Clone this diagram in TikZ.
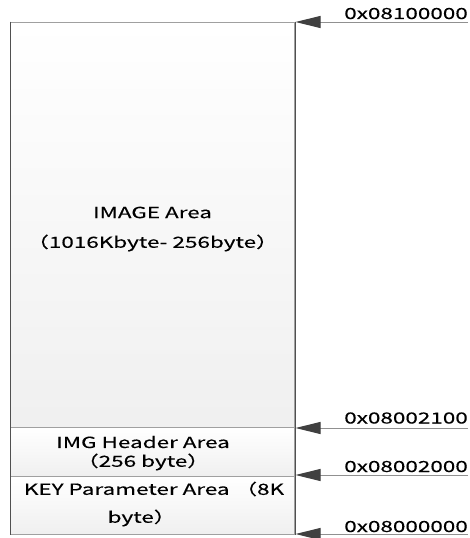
\documentclass[tikz,border=0pt]{standalone}
\usepackage{fontspec}
\setmainfont{Noto Sans CJK SC}[FakeStretch=1.47,FakeBold=0.3]
\usetikzlibrary{arrows.meta}
\definecolor{edge}{HTML}{A0A0A0}
\definecolor{sidec}{HTML}{505050}
\definecolor{headc}{HTML}{404040}
\definecolor{linec}{HTML}{909090}
\tikzset{
  area/.style={draw=edge, line width=1pt, top color=white, bottom color=black!6, minimum width=284pt, inner sep=0pt},
  side/.style={draw=sidec, line width=1pt},
  txt/.style={font=\fontsize{15.3}{18}\selectfont, inner sep=0pt, text=black},
  addr/.style={font=\fontsize{15.3}{18}\selectfont, inner sep=0pt, anchor=base east, text=black},
  ptr/.style={draw=linec, line width=1pt, -{Triangle[length=25pt,width=12pt,fill=headc,color=headc]}}
}
\begin{document}
\begin{tikzpicture}[x=1pt,y=-1pt]
\useasboundingbox (0,0) rectangle (470,538);
% areas
\node[area, minimum height=405.5pt] (img) at (152.5,224.75) {};
\node[area, minimum height=49pt] (hdr) at (152.5,452) {};
\node[area, minimum height=57.5pt] (key) at (152.5,505.25) {};
\draw[side] (img.north west) -- (key.south west);
\draw[side] (img.north east) -- (key.south east);
% texts
\node[txt] (t1) at (152.5,212.5) {IMAGE Area};
\node[txt] (t2) at (152.5,243) {（1016Kbyte- 256byte）};
\node[txt] (t3) at (143,442) {IMG Header Area};
\node[txt] (t4) at (143,462) {（256 byte）};
\node[txt] (t5) at (154,489) {KEY Parameter Area （8K};
\node[txt] (t6) at (142,518) {byte）};
% pointer coordinates
\coordinate (s1) at (468,22);   \coordinate (e1) at (295.5,22);
\coordinate (s2) at (468,428);  \coordinate (e2) at (295.5,428);
\coordinate (s3) at (468,475);  \coordinate (e3) at (295.5,475);
\coordinate (s4) at (468,534);  \coordinate (e4) at (295.5,534);
\draw[ptr] (s1) -- (e1);
\draw[ptr] (s2) -- (e2);
\draw[ptr] (s3) -- (e3);
\draw[ptr] (s4) -- (e4);
% address labels
\node[addr] (a1) at (468,19) {0x08100000};
\node[addr] (a2) at (468,423.5) {0x08002100};
\node[addr] (a3) at (468,472) {0x08002000};
\node[addr] (a4) at (468,532) {0x08000000};
\end{tikzpicture}
\end{document}
